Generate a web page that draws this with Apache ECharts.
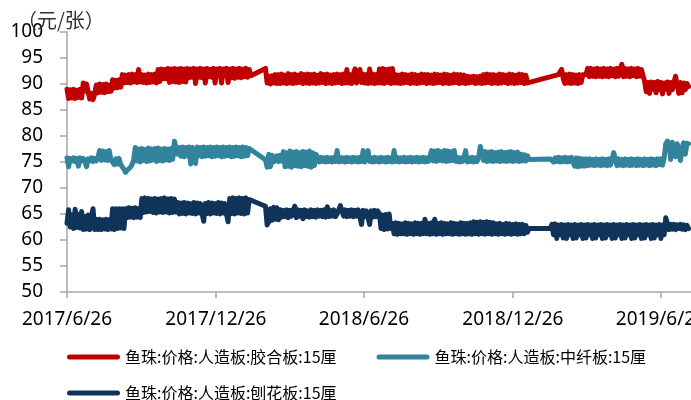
<!DOCTYPE html>
<html>
<head>
<meta charset="utf-8">
<script src="https://cdn.jsdelivr.net/npm/echarts@6/dist/echarts.min.js"></script>
<style>
  html, body { margin: 0; padding: 0; background: #fff; }
  #chart { width: 691px; height: 400px; }
</style>
</head>
<body>
<div id="chart"></div>
<script>
// 每2天取一个点，起始 2017/6/26；null 为春节停报
const startDate = new Date(2017, 5, 26)
const stepDays = 2
const seriesNames = ['鱼珠:价格:人造板:胶合板:15厘', '鱼珠:价格:人造板:中纤板:15厘', '鱼珠:价格:人造板:刨花板:15厘']
const tickDates = ['2017/6/26', '2017/12/26', '2018/6/26', '2018/12/26', '2019/6/26']

// 胶合板
const plywood = [
  89.0, 87.2, 88.9, 87.3, 89.0, 87.2, 88.8, 87.4, 89.0, 87.3,
  90.2, 88.6, 90.0, 88.5,
  87.1, 88.2, 87.0, 88.0,
  89.8, 88.3, 90.0, 88.4, 89.9, 88.3, 90.0, 88.5, 89.8, 88.6,
  90.8, 89.2, 90.7, 89.3, 90.8, 89.4,
  91.8, 90.2, 91.7, 90.3, 91.8, 90.2, 91.9, 90.4, 91.8, 90.3,
  92.8, 90.4, 91.8, 90.3, 91.7, 90.2, 91.9, 90.3, 91.8, 90.4,
  91.9, 90.2, 92.8, 90.5, 92.9, 91.0, 92.8, 91.0,
  93.0, 90.3, 92.9, 90.5, 93.0, 90.4, 92.9, 90.3, 93.0, 90.5, 92.9, 90.4,
  93.0, 91.2, 92.9, 91.3, 93.0, 90.1, 92.9, 91.3, 93.0, 91.2,
  92.9, 90.2, 93.0, 91.4, 92.8, 91.3, 93.0, 90.2,
  92.9, 91.5, 93.0, 90.2, 92.9, 91.6, 93.0, 90.3,
  92.9, 91.2, 93.0, 91.1, 92.9, 91.3, 93.0, 91.2, 92.9, 91.4, 93.0, 91.3, 92.8, 91.6,
  null, null, null, null, null, null, null, null,
  93.0,
  90.2, 91.5, 90.0, 91.6, 90.2, 91.8, 90.1,
  91.8, 90.1, 91.9, 90.2, 91.7, 90.1, 92.0, 90.2, 91.8, 90.1,
  91.9, 90.2, 91.7, 90.3, 92.0, 90.1, 91.8, 90.2, 91.9, 90.1,
  91.8, 90.2, 91.9, 90.1, 91.7, 90.2, 92.0, 90.3, 91.8, 90.1,
  91.9, 90.2, 91.7, 90.1, 91.8, 90.2, 91.9, 90.3, 91.8, 90.1,
  91.9, 90.2,
  92.8, 90.2, 91.8, 90.1, 91.9, 92.9, 90.2, 91.8, 92.8, 90.3,
  91.9, 90.2, 91.8, 90.1, 92.9, 90.2, 91.9, 90.1, 91.8, 90.2,
  92.9, 90.2, 93.0, 90.1, 92.8, 90.3, 92.9, 90.1, 93.0, 90.2,
  91.8, 90.2, 91.7, 90.1, 91.9, 90.2, 91.8, 90.3, 91.7, 90.1,
  91.9, 90.2, 91.8, 90.1, 91.7, 90.2, 91.9, 90.3, 91.8, 90.1,
  91.8, 90.2, 91.7, 90.1, 91.9, 90.2, 91.8, 90.3, 91.7, 90.1,
  91.9, 90.2, 91.8, 90.1, 91.7, 90.2, 91.9, 90.3, 91.8, 90.1,
  91.8, 90.2, 91.7, 90.1, 91.5, 90.2, 91.4, 90.3, 91.5, 90.1,
  91.4, 90.2, 91.5, 90.1, 91.8, 90.2, 91.9, 90.3, 91.8, 90.1,
  91.8, 90.2, 91.7, 90.1, 91.9, 90.2, 91.8, 90.3, 91.7, 90.1,
  91.9, 90.2, 91.8, 90.1, 91.7, 90.2, 91.9, 90.3, 91.8, 90.1,
  91.7, 90.2, 90.4,
  null, null, null, null, null, null, null, null, null, null,
  null, null, null, null, null, null, null,
  91.8,
  91.6, 92.8, 91.0, 90.1, 91.8, 90.2, 91.9, 90.1, 91.8, 90.2,
  91.7, 90.1, 91.8, 90.3, 91.8, 91.8,
  91.8, 93.0, 91.4, 93.0, 91.5, 92.9, 91.4, 93.0, 91.5, 92.9,
  91.4, 93.0, 91.5, 92.9, 91.4, 93.0, 91.6, 92.9, 91.4, 93.0,
  91.5, 92.9, 93.8, 91.4, 93.0, 91.5, 92.9, 91.4, 93.0, 91.6,
  92.9, 91.4, 93.0, 91.5, 92.8, 91.6,
  90.5, 88.5, 90.3, 88.2, 90.4, 89.0, 90.3, 88.3, 90.5, 88.9,
  90.3, 88.1, 90.2, 89.0, 90.4, 88.2, 90.3, 88.9, 90.2, 91.5,
  91.3, 88.2, 90.3, 88.3, 90.2, 88.9, 90.1, 89.5
]

// 中纤板
const mdf = [
  75.8, 74.1, 75.7, 75.2, 75.8, 75.1, 75.7, 74.2, 75.8, 75.2,
  75.7, 75.1, 74.1, 75.6, 75.2, 75.8, 75.1, 75.7, 75.2, 75.8,
  77.2, 75.3, 77.1, 75.4, 77.0, 75.3, 77.2, 75.4,
  75.7, 74.5, 75.6, 74.6, 75.7, 74.5,
  74.5, 73.6, 73.0, 73.4, 73.2, 74.0, 74.5, 75.5,
  77.8, 75.2, 77.5, 75.0, 77.6, 75.3, 77.4, 75.1, 77.7, 75.2,
  77.5, 75.4, 77.6, 75.1, 77.7, 75.3, 77.5, 75.2, 77.6, 75.4,
  77.5, 75.3, 77.6, 75.5,
  79.0, 78.8, 76.5,
  77.8, 76.1, 77.9, 76.0, 77.8, 76.2, 77.9, 74.6, 77.8, 76.1,
  74.7, 77.9, 76.2, 77.8, 76.0, 77.9, 76.1, 77.8, 76.2, 77.9,
  76.0, 77.8, 76.1, 77.9, 76.2, 77.8, 76.0, 77.9, 76.1, 77.8,
  76.2, 77.9, 76.0, 77.8, 76.1, 77.9, 76.2, 77.8, 76.0, 77.9,
  76.1, 77.8, 76.2, 77.6,
  null, null, null, null, null, null, null, null, null,
  75.4, 74.0, 76.5, 74.1, 76.3, 75.0,
  75.2, 76.2, 75.1, 76.3, 75.2,
  77.0, 74.1, 76.8, 74.2, 77.1, 74.0, 76.9, 74.3, 77.0, 74.2,
  76.8, 74.1, 77.0, 74.3, 76.9, 74.2, 77.1, 74.0, 76.8, 74.3,
  76.5,
  75.9, 75.0, 75.9, 75.1, 75.8, 75.0, 75.9, 75.1, 75.8, 75.0,
  75.9, 75.1, 77.2, 75.0, 75.9, 75.1, 75.8, 75.0, 75.9, 75.1,
  75.8, 75.0, 75.9, 75.1, 75.8, 75.0, 75.9, 75.1, 77.2, 75.0,
  75.9, 77.2, 75.1, 75.8, 75.0, 75.9, 75.1, 75.8,
  75.0, 75.9, 75.1, 75.8, 75.0, 75.9, 75.1, 75.8, 75.0, 77.2,
  75.1, 75.9, 75.0, 75.8, 75.1, 75.9, 75.0, 75.8, 75.1, 75.9,
  75.0, 75.8, 75.1, 75.9, 75.0, 75.8, 75.1, 75.9, 75.0, 75.8,
  75.1, 75.9, 77.2, 75.2, 77.1, 75.1, 77.2, 75.3, 77.0, 75.2,
  77.2, 75.1, 77.1, 75.2, 77.0, 75.3, 77.2, 75.1, 75.9, 75.0,
  75.8, 75.1, 75.9, 77.2, 75.0, 75.8, 75.1, 75.9, 75.0, 75.8,
  75.1, 75.9, 78.0, 77.8, 75.3, 77.0, 75.1, 76.9, 75.2, 77.0,
  75.1, 76.8, 75.2, 76.9, 75.1, 77.0, 75.2, 76.8, 75.1, 76.9,
  75.2, 77.0, 75.1, 76.8, 75.2, 76.9, 75.1, 76.5, 75.2, 76.4,
  75.2, 76.2, 75.5, 75.6,
  null, null, null, null, null, null, null, null, null, null, null,
  75.6,
  75.9, 75.0, 75.8, 75.1, 75.9, 75.0, 75.8, 75.1, 75.9, 75.0,
  75.8, 75.1, 75.9, 75.0, 74.2, 75.8, 74.1, 75.7, 74.2, 75.6,
  74.2, 75.6,
  74.3, 75.6, 74.4, 75.5, 74.3, 75.6, 74.4, 75.5, 74.3, 75.6,
  74.4, 75.5, 74.3, 75.6, 74.4, 75.5, 76.8, 76.6, 74.3, 75.6,
  74.4, 75.5, 74.3, 75.6, 74.4, 75.5, 74.3, 75.6, 74.4, 75.5,
  74.3, 75.6, 74.4, 75.5, 74.3, 75.6, 74.4, 75.5, 74.3, 75.6,
  74.4, 75.5, 74.3, 75.6,
  74.5, 75.6, 74.4, 75.8,
  78.5, 79.0, 78.6, 75.5, 78.8, 78.5, 76.0, 78.5, 78.8, 75.3,
  77.8, 78.7, 76.5, 78.6, 78.5
]

// 刨花板
const particle = [
  63.2, 65.8, 62.5, 64.8, 62.2, 65.9, 62.4, 64.9, 62.3, 65.5,
  62.0, 64.5, 62.1, 64.8, 62.0, 64.6, 66.0, 62.0,
  64.0, 62.0, 64.0, 62.0, 63.9, 62.1, 64.0, 62.0, 63.9, 62.1,
  66.0, 62.0, 66.0, 62.2, 66.0, 62.3, 66.0, 62.2,
  66.0, 64.3, 66.2, 64.4, 66.1, 64.3, 66.2, 64.4, 66.0, 64.3,
  68.0, 65.3, 68.1, 65.4, 68.0, 65.5, 67.9, 65.3, 68.0, 65.2,
  67.9, 65.4, 68.0, 65.3, 68.1, 65.4, 67.9, 65.2, 68.0, 65.3,
  67.9, 65.4,
  67.2, 65.0, 67.1, 65.1, 67.2, 65.0, 67.1, 65.2, 67.0, 65.1,
  67.2, 65.0, 67.1, 65.2, 67.0, 65.1, 63.6, 67.0, 65.1, 67.2,
  65.0, 67.1, 65.2, 67.0, 65.1, 67.2, 65.0, 67.1, 65.2, 67.0,
  65.0, 63.5,
  68.0, 65.1, 68.1, 65.0, 68.0, 65.2, 68.1, 65.1, 68.0, 65.0,
  68.1, 65.2, 67.8,
  null, null, null, null, null, null, null, null, null,
  66.5,
  62.9, 63.5, 66.0, 63.8, 66.3, 64.0, 66.2, 63.9,
  65.8, 64.4, 65.7, 64.5, 65.8, 64.3, 65.7, 64.6, 65.8, 66.5,
  64.3, 65.8, 64.6, 65.7, 64.1, 65.8, 64.5, 65.6, 64.4, 65.8,
  64.5, 65.7, 64.4, 65.8, 64.6, 65.7, 64.5, 65.8, 64.4, 66.4,
  64.5, 65.7, 64.6, 65.8, 64.5,
  65.0, 65.8, 66.6, 66.4, 64.6, 65.8, 64.5, 65.7, 64.6, 65.8,
  64.5, 65.7, 64.6, 65.8, 64.5,
  63.0, 65.7, 64.5, 65.6, 64.4, 63.0, 65.6, 64.4, 65.7, 64.5,
  65.6,
  65.0, 62.2, 64.8, 62.0, 64.9, 62.1, 65.0, 62.2,
  63.2, 61.2, 63.3, 61.1, 63.2, 61.2, 63.1, 61.2, 63.3, 61.1,
  63.2, 61.2, 63.1, 61.1, 63.3, 61.2, 63.2, 61.1, 63.2, 61.2,
  64.0, 61.2, 63.2, 61.1, 63.3, 61.2, 64.0, 61.1, 63.2, 61.2,
  63.3, 61.1, 63.2, 61.2, 63.1, 61.2, 63.3, 61.1, 63.2, 61.2,
  63.1, 61.1, 63.3, 61.2, 63.2, 61.1, 63.2, 61.2, 63.3, 61.1,
  63.5, 61.2, 63.4, 61.1, 63.5, 61.2, 63.4, 61.1, 63.5, 61.2,
  63.4, 61.1, 63.3, 61.2, 63.1, 61.1, 63.2, 61.2, 63.0, 61.1,
  63.2, 61.2, 63.1, 61.1, 63.0, 61.2, 63.1, 61.1, 63.0, 61.2,
  63.0, 61.2, 62.8, 61.5, 62.2,
  null, null, null, null, null, null, null, null, null, null, null, null,
  62.2,
  63.0, 61.0, 63.1, 60.3, 62.9, 61.0, 63.0, 60.4, 62.9, 60.3,
  63.0, 61.0, 62.9, 60.3, 63.0, 60.4, 62.9, 61.0, 63.0, 60.3,
  62.9, 60.4, 63.0, 61.0, 62.9, 60.3, 63.0, 60.4, 62.9, 61.0,
  63.0, 60.3, 62.9, 60.4, 63.0, 61.0, 62.9, 60.3, 63.0, 60.4,
  62.9, 61.0, 63.0, 60.3, 62.9, 60.4, 63.0, 61.0, 62.9, 60.3,
  63.0, 60.4, 62.9, 61.0, 63.0, 60.3, 62.9, 60.4, 63.0, 61.0,
  62.9, 60.3, 63.0, 60.4, 62.9, 61.0, 63.0, 60.3, 62.9,
  61.0, 64.3, 64.0, 62.0, 63.0, 62.1, 63.0, 62.0, 62.9, 62.2,
  63.0, 62.1, 62.9, 62.0, 62.8, 62.2
]

const colors = ['#C00000', '#31849B', '#0F3359']
const DAY = 24 * 3600 * 1000

function toPairs(list) {
  return list.map((v, i) => [startDate.getTime() + i * stepDays * DAY, v])
}
function parseDate(s) {
  const p = s.split('/')
  return new Date(+p[0], +p[1] - 1, +p[2]).getTime()
}
function fmtDate(v) {
  const d = new Date(v)
  return d.getFullYear() + '/' + (d.getMonth() + 1) + '/' + d.getDate()
}

const tickValues = tickDates.map(parseDate)
const lineIcon = 'path://M2.5,0H50.5A2.5,2.5,0,0,1,50.5,5H2.5A2.5,2.5,0,0,1,2.5,0Z'
const legendText = { fontFamily: 'Noto Sans CJK SC', fontSize: 16, color: '#000' }

const chart = echarts.init(document.getElementById('chart'))
chart.setOption({
  animation: false,
  color: colors,
  title: {
    text: '（元/张）',
    left: 12,
    top: 5,
    textStyle: {
      fontFamily: 'Noto Sans CJK SC',
      fontSize: 20,
      fontWeight: 'normal',
      color: '#333'
    }
  },
  grid: {
    left: 67,
    right: 0,
    top: 32,
    bottom: 108,
    outerBoundsMode: 'none'
  },
  legend: [{
    data: seriesNames.slice(0, 2),
    left: 62,
    top: 344,
    icon: lineIcon,
    itemWidth: 53,
    itemHeight: 5,
    itemGap: 40,
    textStyle: legendText
  }, {
    data: seriesNames.slice(2),
    left: 62,
    top: 380,
    icon: lineIcon,
    itemWidth: 53,
    itemHeight: 5,
    textStyle: legendText
  }],
  xAxis: {
    type: 'value',
    min: startDate.getTime(),
    max: startDate.getTime() + 767 * DAY,
    splitLine: { show: false },
    axisLine: { lineStyle: { color: '#A6A6A6', width: 1.5 } },
    axisTick: {
      customValues: tickValues,
      length: 6,
      lineStyle: { color: '#A6A6A6', width: 1.5 }
    },
    axisLabel: {
      customValues: tickValues,
      formatter: fmtDate,
      margin: 18,
      color: '#000',
      fontFamily: 'Noto Sans',
      fontSize: 19
    }
  },
  yAxis: {
    type: 'value',
    min: 50,
    max: 100,
    interval: 5,
    splitLine: { show: false },
    axisLine: { show: true, lineStyle: { color: '#A6A6A6', width: 1.5 } },
    axisTick: { show: true, length: 7, lineStyle: { color: '#A6A6A6', width: 1.5 } },
    axisLabel: {
      margin: 24,
      color: '#000',
      fontFamily: 'Noto Sans',
      fontSize: 19
    }
  },
  series: [plywood, mdf, particle].map((list, k) => ({
    name: seriesNames[k],
    type: 'line',
    data: toPairs(list),
    showSymbol: false,
    connectNulls: true,
    lineStyle: { width: 5, cap: 'round', join: 'round' }
  }))
})
</script>
</body>
</html>
